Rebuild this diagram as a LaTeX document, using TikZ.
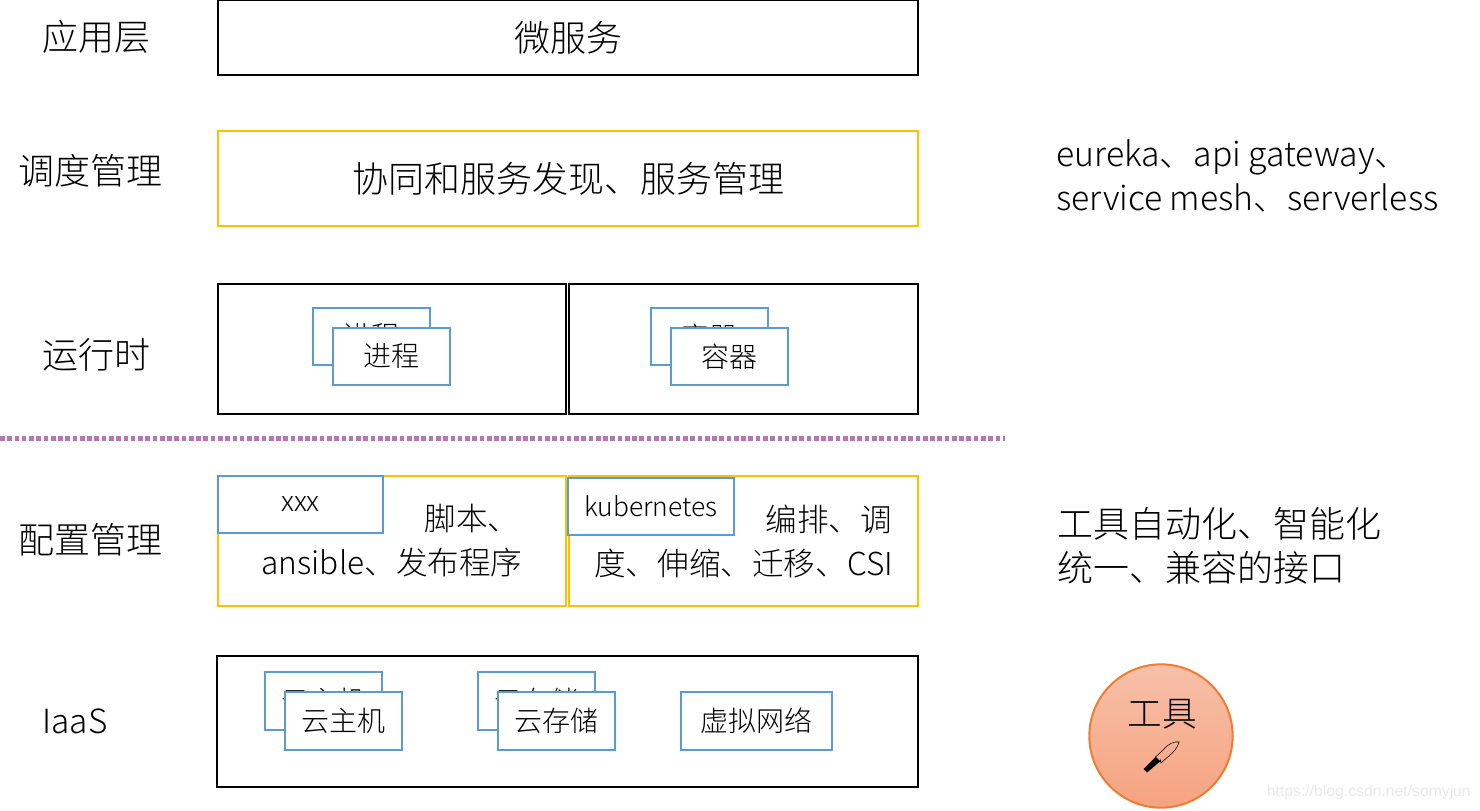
\documentclass[tikz,border=0pt]{standalone}
\usepackage{fontspec}
\setmainfont{Noto Sans CJK SC Light}
\setsansfont{Liberation Sans}
\usepackage{tikz}
\usetikzlibrary{positioning}
\definecolor{boxyellow}{HTML}{FFC000}
\definecolor{boxblue}{HTML}{5B9BD5}
\definecolor{lineviolet}{HTML}{B973B8}
\definecolor{tooledge}{HTML}{ED7D31}
\definecolor{tooltop}{HTML}{F7C0A8}
\definecolor{toolbottom}{HTML}{F5A380}
\tikzset{
x=0.75pt, y=-0.75pt, % one unit is one pixel of the reference
layerlabel/.style={font=\fontsize{27pt}{32pt}\selectfont, inner sep=0pt},
sidelabel/.style={font=\fontsize{25.3pt}{32.5pt}\selectfont, inner sep=0pt, align=left, anchor=west},
blackbox/.style={draw=black, line width=1.5pt, inner sep=0pt, align=center},
yellowbox/.style={draw=boxyellow, line width=1.5pt, inner sep=0pt, align=center},
bluebox/.style={draw=boxblue, line width=1.5pt, fill=white, inner sep=0pt, font=\fontsize{21pt}{26pt}\selectfont, minimum width=87.75pt, minimum height=43pt},
cfgtext/.style={font=\fontsize{23.7pt}{33pt}\selectfont},
}

\begin{document}
\begin{tikzpicture}
            \useasboundingbox (0,0) rectangle (1480,810);
            % left column
            \node[layerlabel] (lblapp) at (96.5,37) {应用层};
            \node[layerlabel] (lblsched) at (90,171) {调度管理};
            \node[layerlabel] (lblrun) at (96.5,355) {运行时};
            \node[layerlabel] (lblcfg) at (90,540) {配置管理};
            \node[layerlabel, font=\fontsize{25pt}{30pt}\selectfont] (lbliaas) at (75,721) {IaaS};
            % layers above the line
            \node[blackbox, minimum width=525pt, minimum height=56.25pt, font=\fontsize{27pt}{32pt}\selectfont] (app) at (568,37.5) {微服务};
            \node[yellowbox, minimum width=525pt, minimum height=71.25pt, font=\fontsize{27pt}{32pt}\selectfont] (sched) at (568,178.5) {协同和服务发现、服务管理};
            \node[blackbox, minimum width=261pt, minimum height=97.5pt] (runleft) at (392,349) {};
            \node[blackbox, minimum width=261.4pt, minimum height=97.5pt] (runright) at (743.75,349) {};
            \node[bluebox] (procback) at (371.5,336.5) {进程};
            \node[bluebox] (procfront) at (391.5,356.5) {进程};
            \node[bluebox] (contback) at (709.5,336.5) {容器};
            \node[bluebox] (contfront) at (729.5,356.5) {容器};
            % dotted separator
            \coordinate (sepa) at (0,438);
            \coordinate (sepb) at (1005,438);
            \draw[lineviolet, line width=3.75pt, dash pattern=on 3.5pt off 1.95pt] (sepa) -- (sepb);
            % layers below the line
            \node[yellowbox, minimum width=261pt, minimum height=97.5pt, cfgtext] (cfgleft) at (392,541) {\hspace*{120pt}脚本、\\ansible、发布程序};
            \node[yellowbox, minimum width=261.4pt, minimum height=97.5pt, cfgtext] (cfgright) at (743.75,541) {\hspace*{127.5pt}编排、调\\度、伸缩、迁移、CSI};
            \node[bluebox, minimum width=123.75pt, minimum height=42.75pt] (xxx) at (300.5,504.5) {xxx};
            \node[bluebox, minimum width=124.5pt, minimum height=42.75pt, font=\fontsize{19.8pt}{26pt}\selectfont] (kube) at (651,506.5) {kubernetes};
            \node[blackbox, minimum width=525.75pt, minimum height=98.25pt] (iaas) at (567.5,721.5) {};
            \node[bluebox] (vmback) at (323.5,701) {云主机};
            \node[bluebox] (vmfront) at (343.5,721) {云主机};
            \node[bluebox] (diskback) at (536.5,701) {云存储};
            \node[bluebox] (diskfront) at (556.5,721) {云存储};
            \node[bluebox, minimum width=113.25pt] (net) at (756.5,721) {虚拟网络};
            % right column
            \node[sidelabel] (sidetop) at (1056,176) {eureka、api gateway、\\service mesh、serverless};
            \node[sidelabel, font=\fontsize{27pt}{33pt}\selectfont] (sidebottom) at (1057,546) {工具自动化、智能化\\统一、兼容的接口};
            % tool circle with knife
            \node[circle, draw=tooledge, line width=1.5pt, top color=tooltop, bottom color=toolbottom, minimum size=107.5pt, inner sep=0pt] (tool) at (1161,736) {};
            \node[inner sep=0pt, font=\fontsize{26pt}{30pt}\selectfont] (tooltext) at (1162,714) {工具};
            \fill (1143.5,769) -- (1147,772.5) -- (1160,761.5) -- (1155.5,757) -- cycle;
            \draw[line width=0.4pt] (1155.5,757) -- (1160,761.5) -- (1160.5,760) -- (1161,763) -- (1166.5,758) .. controls (1174,752) and (1178,747) .. (1179,742) .. controls (1174,741) and (1168,744) .. (1163,750) -- cycle;
            % watermark
            \node[font=\sffamily\fontsize{11.8pt}{15pt}\selectfont, text=black!9, inner sep=0pt, anchor=east] (mark) at (1471,792) {https://blog.csdn.net/somyjun};
        \end{tikzpicture}
\end{document}
